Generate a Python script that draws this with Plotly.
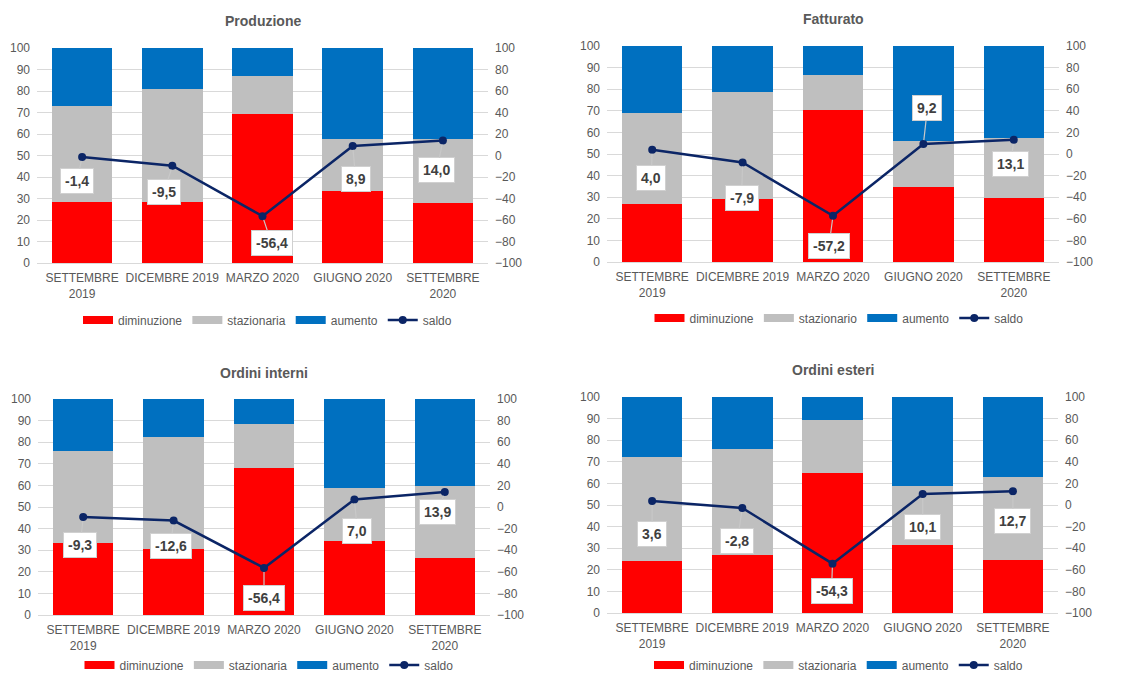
import plotly.graph_objects as go

# ---------------- data ----------------
categories = ["SETTEMBRE<br>2019", "DICEMBRE 2019", "MARZO 2020", "GIUGNO 2020", "SETTEMBRE<br>2020"]

titles = ["Produzione", "Fatturato", "Ordini interni", "Ordini esteri"]
staz_names = ["stazionaria", "stazionario", "stazionaria", "stazionaria"]

prod_dim = [28.6, 28.6, 69.4, 33.6, 28.1]
prod_staz = [44.2, 52.3, 17.6, 23.9, 29.8]
prod_aum = [27.2, 19.1, 13.0, 42.5, 42.1]
prod_saldo = [-1.4, -9.5, -56.4, 8.9, 14.0]

fatt_dim = [27.0, 29.0, 70.4, 34.6, 29.7]
fatt_staz = [42.0, 49.9, 16.4, 21.6, 27.5]
fatt_aum = [31.0, 21.1, 13.2, 43.8, 42.8]
fatt_saldo = [4.0, -7.9, -57.2, 9.2, 13.1]

oint_dim = [33.5, 30.4, 68.0, 34.2, 26.3]
oint_staz = [42.3, 51.8, 20.4, 24.6, 33.5]
oint_aum = [24.2, 17.8, 11.6, 41.2, 40.2]
oint_saldo = [-9.3, -12.6, -56.4, 7.0, 13.9]

oest_dim = [24.0, 26.9, 65.0, 31.3, 24.4]
oest_staz = [48.4, 49.0, 24.3, 27.3, 38.5]
oest_aum = [27.6, 24.1, 10.7, 41.4, 37.1]
oest_saldo = [3.6, -2.8, -54.3, 10.1, 12.7]

left_ticks = list(range(0, 101, 10))
right_ticks = list(range(-100, 101, 20))

# ---------------- styling / layout ----------------
W, H = 1133, 674
RED, GRAY, BLUE, NAVY = "#FF0000", "#BFBFBF", "#0070C0", "#0B2566"
TXT = "#595959"
FONT = "Liberation Sans, Arial, sans-serif"

# plot areas in pixels: (left, right, top, bottom)
areas = [(37, 488, 48, 263), (607, 1059, 46, 262), (38, 490, 399, 615), (607, 1058, 397, 613)]
title_y = [21, 19, 373, 370]
legend_y = [320, 318, 665, 665]
legend_dx = [5, 6, 5, 6]
# label offsets (pixels) for the saldo callouts
label_off = [
    [(-5, 24), (-8, 26), (9, 27), (3, 33), (-6, 30)],
    [(-1, 28), (-1, 35), (-4, 30), (4, -36), (-3, 24)],
    [(-3, 28), (-3, 25), (0, 30), (3, 32), (-7, 20)],
    [(0, 33), (-5, 33), (-1, 27), (0, 33), (0, 30)],
]

panels = [
    (prod_dim, prod_staz, prod_aum, prod_saldo),
    (fatt_dim, fatt_staz, fatt_aum, fatt_saldo),
    (oint_dim, oint_staz, oint_aum, oint_saldo),
    (oest_dim, oest_staz, oest_aum, oest_saldo),
]

fig = go.Figure()
layout = dict(
    width=W, height=H,
    margin=dict(l=0, r=0, t=0, b=0, autoexpand=False),
    paper_bgcolor="white", plot_bgcolor="white",
    barmode="stack", bargap=0.33,
    font=dict(family=FONT, size=12, color=TXT),
    showlegend=True,
    annotations=[],
)

for i, (dim, staz, aum, saldo) in enumerate(panels):
    n = i + 1
    xa = "x" if n == 1 else f"x{n}"
    ya_l = "y" if n == 1 else f"y{2 * n - 1}"
    ya_r = f"y{2 * n}"
    leg = "legend" if n == 1 else f"legend{n}"
    l, r, t, b = areas[i]
    xd = [l / W, r / W]
    yd = [1 - b / H, 1 - t / H]

    xkey = "xaxis" if n == 1 else f"xaxis{n}"
    ylkey = "yaxis" if n == 1 else f"yaxis{2 * n - 1}"
    yrkey = f"yaxis{2 * n}"

    layout[xkey] = dict(domain=xd, anchor=ya_l, showgrid=False, showline=True,
                        linecolor="#D9D9D9", linewidth=1, ticks="", tickfont=dict(size=12, color=TXT),
                        tickangle=0, ticklabelstandoff=4, fixedrange=True)
    layout[ylkey] = dict(domain=yd, anchor=xa, range=[0, 100], tickvals=left_ticks,
                         showgrid=True, gridcolor="#D9D9D9", gridwidth=1, zeroline=False,
                         showline=False, ticks="", tickfont=dict(size=12, color=TXT),
                         ticklabelstandoff=6)
    layout[yrkey] = dict(overlaying=ya_l, anchor=xa, side="right", range=[-100, 100],
                         tickvals=right_ticks, showgrid=False, zeroline=False, showline=False,
                         ticks="", tickfont=dict(size=12, color=TXT), ticklabelstandoff=6)

    for vals, color in ((dim, RED), (staz, GRAY), (aum, BLUE)):
        fig.add_trace(go.Bar(x=categories, y=vals, marker=dict(color=color, line=dict(width=0)),
                             xaxis=xa, yaxis=ya_l, showlegend=False, hoverinfo="skip"))

    fig.add_trace(go.Scatter(x=categories, y=saldo, mode="lines+markers", xaxis=xa, yaxis=ya_r,
                             line=dict(color=NAVY, width=2.5),
                             marker=dict(color=NAVY, size=8, symbol="circle"),
                             showlegend=False, hoverinfo="skip"))

    # legend entries (wide flat swatches like the original)
    for name, color in (("diminuzione", RED), (staz_names[i], GRAY), ("aumento", BLUE)):
        fig.add_trace(go.Scatter(x=[None], y=[None], mode="lines", name=name,
                                 line=dict(color=color, width=8), xaxis=xa, yaxis=ya_l,
                                 legend=leg, showlegend=True))
    fig.add_trace(go.Scatter(x=[None], y=[None], mode="lines+markers", name="saldo",
                             line=dict(color=NAVY, width=2.5), marker=dict(color=NAVY, size=8),
                             xaxis=xa, yaxis=ya_r, legend=leg, showlegend=True))

    layout[leg] = dict(orientation="h", x=((l + r) / 2 + legend_dx[i]) / W, xanchor="center",
                       y=1 - legend_y[i] / H, yanchor="middle",
                       font=dict(size=12, color=TXT, family=FONT), bgcolor="rgba(0,0,0,0)",
                       itemwidth=30, traceorder="normal", tracegroupgap=0)

    # title
    layout["annotations"].append(dict(text=f"<b>{titles[i]}</b>", xref="paper", yref="paper",
                                      x=(l + r) / 2 / W, y=1 - title_y[i] / H, showarrow=False,
                                      xanchor="center", yanchor="middle",
                                      font=dict(size=14, color=TXT, family=FONT)))
    # callout labels
    for k, v in enumerate(saldo):
        dx, dy = label_off[i][k]
        txt = f"{v:.1f}".replace(".", ",")
        layout["annotations"].append(dict(
            x=categories[k], y=v, xref=xa, yref=ya_r, text=f"<b>{txt}</b>",
            showarrow=True, arrowhead=0, arrowwidth=1.2, arrowcolor="#C8C8C8",
            ax=dx, ay=dy, axref="pixel", ayref="pixel", standoff=4,
            bgcolor="white", bordercolor="#D0D0D0", borderwidth=1, borderpad=4,
            font=dict(size=14, color="#404040", family=FONT)))

fig.update_layout(**layout)
fig.write_html("out.html", config={"displayModeBar": False})
